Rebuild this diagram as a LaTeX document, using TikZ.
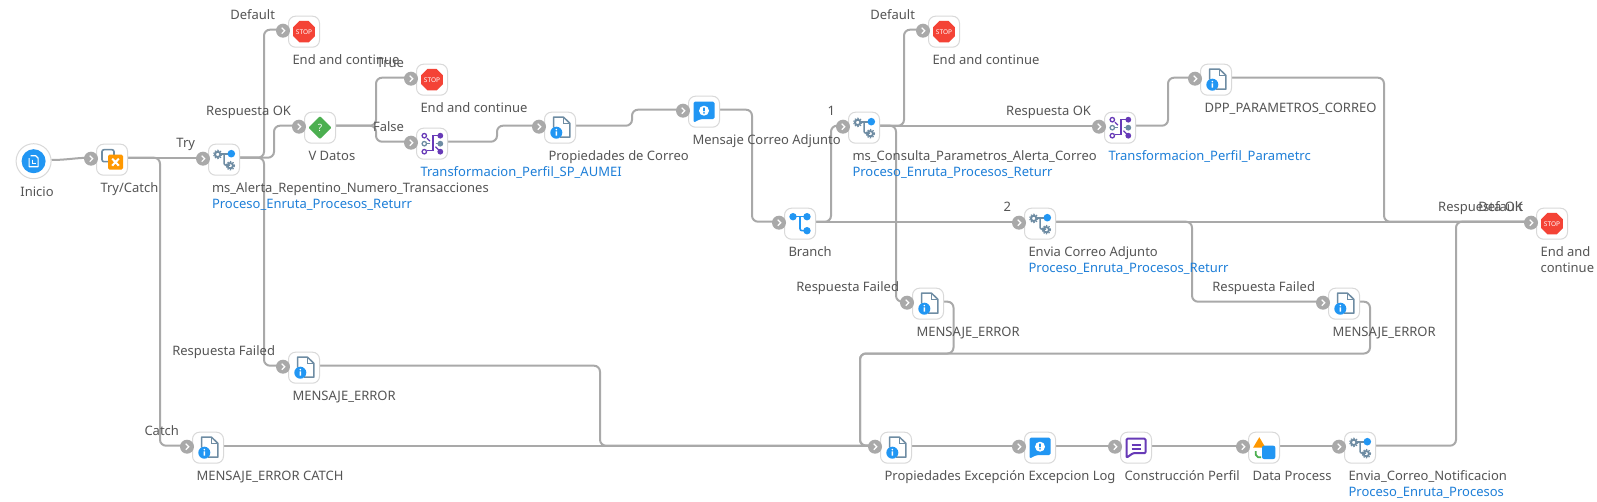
\documentclass[tikz,border=0pt]{standalone}
\usepackage{fontspec}
\setmainfont{Noto Sans}
\usetikzlibrary{calc}
\definecolor{edgec}{HTML}{A9A9A9}
\definecolor{txt}{HTML}{555555}
\definecolor{linkc}{HTML}{1E7FD8}
\definecolor{boxc}{HTML}{D9D9D9}
\definecolor{steel}{HTML}{6E8CA3}
\definecolor{blu}{HTML}{2196F3}
\definecolor{pur}{HTML}{673AB7}
\definecolor{redc}{HTML}{F44336}
\definecolor{grn}{HTML}{4CAF50}
\definecolor{ora}{HTML}{FF9800}
\pgfdeclarelayer{edges}
\pgfsetlayers{edges,main}
\tikzset{
 box/.style={draw=boxc,line width=1pt,fill=white,rounded corners=7pt,minimum size=31pt,inner sep=0,outer sep=0},
 portc/.style={circle,fill=edgec,minimum size=14pt,inner sep=0,outer sep=0},
 edge/.style={draw=edgec,line width=2pt,rounded corners=6pt},
 lab/.style={inner sep=0,outer sep=0,text=txt,anchor=base west,yshift=-0.6pt,font=\fontsize{13}{16}\selectfont},
 link/.style={lab,text=linkc},
 elab/.style={lab,anchor=base east,yshift=0.6pt},
}
% icons are drawn around (0,0), the centre of the box
\newcommand{\cogg}[2]{\draw[steel,line width=1.9pt] (#1,#2) circle (2.7pt);
  \draw[steel,line width=1.1pt,dash pattern=on 1.4pt off 1.3pt] (#1,#2) circle (4.2pt);}
\newcommand{\icostop}{\fill[redc] (-4.5,-10.8)--(4.5,-10.8)--(10.8,-4.5)--(10.8,4.5)--(4.5,10.8)--(-4.5,10.8)--(-10.8,4.5)--(-10.8,-4.5)--cycle;
  \node[inner sep=0,text=white,font=\fontsize{6.5}{6.5}\bfseries\selectfont] (t\thestopn) at (0,0) {STOP};\stepcounter{stopn}}
\newcounter{stopn}
\newcommand{\icoms}{\draw[steel,line width=1.5pt,rounded corners=2pt] (0,-5.5)--(0,5.5)--(6,5.5);
  \draw[steel,line width=1.5pt] (-3,-5.5)--(7,-5.5);
  \cogg{-6.3}{-5.3}\cogg{6.3}{6}\fill[blu] (7.3,-6) circle (3.8pt);}
\newcommand{\icobranch}{\draw[blu,line width=1.6pt,rounded corners=2pt] (0,-7)--(0,7)--(7,7);
  \draw[blu,line width=1.6pt] (-7,-7)--(7,-7);
  \fill[blu] (-7,-7) circle (3.7pt) (7,-7) circle (3.7pt) (7,7) circle (3.7pt);}
\newcommand{\icodoc}{\draw[steel,line width=1.5pt,line join=round] (-6.5,0)--(-6.5,-10.5)--(3.5,-10.5)--(9.8,-4.5)--(9.8,9.5)--(0,9.5);
  \draw[steel,line width=1.2pt] (3.5,-10.5)--(3.5,-4.5)--(9.8,-4.5);
  \fill[blu] (-3.7,5) circle (6pt);
  \fill[white] (-3.7,1.9) circle (.9pt) (-4.5,3.6) rectangle (-2.9,8);}
\newcommand{\icomsg}{\fill[blu,rounded corners=1.5pt] (-10.5,-10)--(10.5,-10)--(10.5,7.5)--(-4,7.5)--(-10.5,11)--cycle;
  \fill[white] (0,-1) circle (5pt);
  \fill[blu] (-.9,-4) rectangle (.9,-.5) (0,1.2) circle (1pt);}
\newcommand{\icospeech}{\draw[pur,line width=2pt,line join=round,rounded corners=1pt] (-9.5,-9)--(9.5,-9)--(9.5,5.5)--(-3,5.5)--(-9.5,10)--cycle;
  \draw[pur,line width=2pt] (-4.3,-2.7)--(4.7,-2.7) (-4.3,1.3)--(4.7,1.3);}
\newcommand{\icotrans}{\draw[pur,line width=1.4pt] (8,-8)--(1,-8)--(1,7)--(-5.5,7);
  \draw[pur,line width=1.2pt] (-5,-5.5)--(-2,-2.5) (3.5,3)--(7,6.5);
  \draw[steel,line width=1.2pt] (-5,-.5)--(-2,-.5) (3.5,-.5)--(7,-.5);
  \draw[pur,line width=1.3pt] (-7.7,-8) circle (2.2pt) (-7.7,8) circle (2.2pt);
  \draw[steel,line width=1.3pt] (-7.7,0) circle (2.2pt);
  \fill[pur] (8.3,-8) circle (2.9pt) (8.3,8) circle (2.9pt);
  \fill[steel] (8.3,0) circle (2.9pt);}
\newcommand{\icodiamond}{\fill[grn,rounded corners=1pt] (0,-11.5)--(11.5,0)--(0,11.5)--(-11.5,0)--cycle;
  \node[inner sep=0,text=white,font=\fontsize{10}{10}\bfseries\selectfont] (q) at (0,0) {?};}
\newcommand{\icotry}{\draw[steel,line width=1.6pt,rounded corners=2pt] (-10,-10)--(2,-10)--(2,2)--(-10,2)--cycle;
  \fill[ora,rounded corners=1.5pt] (-4,-5) rectangle (11,10);
  \draw[white,line width=2pt] (.2,-1)--(6.8,6) (6.8,-1)--(.2,6);}
\newcommand{\icodata}{\fill[ora] (-4.7,-10.5)--(1.5,0)--(-10.9,0)--cycle;
  \draw[grn,line width=1.8pt] (-3,9.5)--(-6,9.5)--(-8.3,7)--(-8.3,3.5);
  \fill[blu,rounded corners=2pt] (-2,-2) rectangle (11.3,11.3);}
% \flow{name}{x}{y}{icon}: box, its icon, its port and its two line ends
\newcommand{\flow}[4]{%
  \node[box] (#1) at (#2,#3) {};
  \begin{scope}[shift={(#1.center)}]#4\end{scope}
  \node[portc] (#1-p) at ($(#1.center)+(-21,-1)$) {};
  \draw[white,line width=1.2pt] ($(#1-p.center)+(-1.3,-3)$)--($(#1-p.center)+(1.7,0)$)--($(#1-p.center)+(-1.3,3)$);
  \coordinate (#1-i) at ($(#1.center)+(-21,-2)$);
  \coordinate (#1-o) at ($(#1.center)+(16,-2)$);
}
% \hvh{from}{to}{x of the vertical}
\newcommand{\hvh}[4][]{\coordinate (m) at (#4,0);\draw[edge,#1] (#2) -- (#2 -| m) -- (#3 -| m) -- (#3);}
\begin{document}
\begin{tikzpicture}[x=1pt,y=-1pt]
\useasboundingbox (0,0) rectangle (1597,502);
% start node
\node[circle,draw=boxc,line width=1pt,fill=white,minimum size=35pt,inner sep=0] (inicio) at (33.6,161.2) {};
\fill[blu] (inicio.center) circle (12pt);
\draw[white,line width=1.2pt,line join=round] ($(inicio.center)+(-3,-5.5)$)--($(inicio.center)+(2,-5.5)$)--($(inicio.center)+(4.5,-3)$)--($(inicio.center)+(4.5,5.5)$)--($(inicio.center)+(-4.5,5.5)$)--($(inicio.center)+(-4.5,-3)$);
\draw[white,line width=1.2pt] ($(inicio.center)+(-1.5,-1.5)$)--($(inicio.center)+(-1.5,2.5)$)--($(inicio.center)+(2.5,2.5)$);
\coordinate (inicio-o) at (51.5,160);
% boxes
\flow{try}{112}{159.7}{\icotry}
\flow{alerta}{224}{159.7}{\icoms}
\flow{stopa}{304}{31.7}{\icostop}
\flow{vdatos}{320}{127.7}{\icodiamond}
\flow{stopb}{432}{79.7}{\icostop}
\flow{transa}{432}{143.7}{\icotrans}
\flow{prop}{560}{127.7}{\icodoc}
\flow{correo}{704}{111.7}{\icomsg}
\flow{branch}{800}{223.7}{\icobranch}
\flow{consulta}{864}{127.7}{\icoms}
\flow{stopc}{944}{31.7}{\icostop}
\flow{transb}{1120}{127.7}{\icotrans}
\flow{dpp}{1216}{79.7}{\icodoc}
\flow{envia}{1040}{223.7}{\icoms}
\flow{stopd}{1552}{223.7}{\icostop}
\flow{errb}{928}{303.7}{\icodoc}
\flow{errc}{1344}{303.7}{\icodoc}
\flow{erra}{304}{367.7}{\icodoc}
\flow{errd}{208}{447.7}{\icodoc}
\flow{propex}{896}{447.7}{\icodoc}
\flow{exlog}{1040}{447.7}{\icomsg}
\flow{perfil}{1136}{447.7}{\icospeech}
\flow{datap}{1264}{447.7}{\icodata}
\flow{notif}{1360}{447.7}{\icoms}
% texts under the boxes
\node[lab] (l1) at (20.4,196) {Inicio};
\node[lab] (l2) at (100.5,192) {Try/Catch};
\node[lab] (l3) at (212,192) {ms\_Alerta\_Repentino\_Numero\_Transacciones};
\node[link] (l4) at (212,208) {Proceso\_Enruta\_Procesos\_Returr};
\node[lab] (l5) at (292.5,64) {End and continue};
\node[lab] (l6) at (308.5,160) {V Datos};
\node[lab] (l7) at (420.5,112) {End and continue};
\node[link] (l8) at (420.5,176) {Transformacion\_Perfil\_SP\_AUMEI};
\node[lab] (l9) at (548.5,160) {Propiedades de Correo};
\node[lab] (l10) at (692.5,144) {Mensaje Correo Adjunto};
\node[lab] (l11) at (788.5,256) {Branch};
\node[lab] (l12) at (852.5,160) {ms\_Consulta\_Parametros\_Alerta\_Correo};
\node[link] (l13) at (852.5,176) {Proceso\_Enruta\_Procesos\_Returr};
\node[lab] (l14) at (932.5,64) {End and continue};
\node[link] (l15) at (1108.5,160) {Transformacion\_Perfil\_Parametrc};
\node[lab] (l16) at (1204.5,112) {DPP\_PARAMETROS\_CORREO};
\node[lab] (l17) at (1028.5,256) {Envia Correo Adjunto};
\node[link] (l18) at (1028.5,272) {Proceso\_Enruta\_Procesos\_Returr};
\node[lab,anchor=north west,align=left] (l19) at (1540.5,246.5) {End and\\continue};
\node[lab] (l20) at (916.5,336) {MENSAJE\_ERROR};
\node[lab] (l21) at (1332.5,336) {MENSAJE\_ERROR};
\node[lab] (l22) at (292.5,400) {MENSAJE\_ERROR};
\node[lab] (l23) at (196.5,480) {MENSAJE\_ERROR CATCH};
\node[lab] (l24) at (884.5,480) {Propiedades Excepción};
\node[lab] (l25) at (1028.5,480) {Excepcion Log};
\node[lab] (l26) at (1124.5,480) {Construcción Perfil};
\node[lab] (l27) at (1252.5,480) {Data Process};
\node[lab] (l28) at (1348.5,480) {Envia\_Correo\_Notificacion};
\node[link] (l29) at (1348.5,496) {Proceso\_Enruta\_Procesos};
% texts on the connectors
\node[elab] (e1) at ($(alerta-p)+(-8,-11.4)$) {Try};
\node[elab] (e2) at ($(stopa-p)+(-8,-11.4)$) {Default};
\node[elab] (e3) at ($(vdatos-p)+(-8,-11.4)$) {Respuesta OK};
\node[elab] (e4) at ($(erra-p)+(-8,-11.4)$) {Respuesta Failed};
\node[elab] (e5) at ($(errd-p)+(-8,-11.4)$) {Catch};
\node[elab] (e6) at ($(stopb-p)+(-7,-11.4)$) {True};
\node[elab] (e7) at ($(transa-p)+(-7,-11.4)$) {False};
\node[elab] (e8) at ($(consulta-p)+(-8,-11.4)$) {1};
\node[elab] (e9) at ($(envia-p)+(-8,-11.4)$) {2};
\node[elab] (e10) at ($(stopc-p)+(-8,-11.4)$) {Default};
\node[elab] (e11) at ($(transb-p)+(-8,-11.4)$) {Respuesta OK};
\node[elab] (e12) at ($(errb-p)+(-8,-11.4)$) {Respuesta Failed};
\node[elab] (e13) at ($(errc-p)+(-8,-11.4)$) {Respuesta Failed};
\node[elab] (e14) at ($(stopd-p)+(-8,-11.4)$) {Respuesta OK};
\node[elab] (e15) at ($(stopd-p)+(-8,-11.4)$) {Default};
% connectors
\begin{pgfonlayer}{edges}
\fill[white] (0,0) rectangle (1597,502);
\draw[edge] (inicio-o) to[out=0,in=180] (try-i);
\draw[edge] (try-o) -- (alerta-i);
\hvh{try-o}{errd-i}{160}
\hvh{alerta-o}{stopa-i}{264}
\hvh{alerta-o}{erra-i}{264}
\hvh{alerta-o}{vdatos-i}{274}
\hvh{vdatos-o}{stopb-i}{376}
\hvh{vdatos-o}{transa-i}{376}
\hvh{transa-o}{prop-i}{497}
\hvh{prop-o}{correo-i}{632}
\hvh{correo-o}{branch-i}{752}
\hvh{branch-o}{consulta-i}{831}
\draw[edge] (branch-o) -- (envia-i);
\hvh{consulta-o}{stopc-i}{904}
\draw[edge] (consulta-o) -- (transb-i);
\hvh{consulta-o}{errb-i}{896}
\hvh{transb-o}{dpp-i}{1168}
\hvh{dpp-o}{stopd-i}{1384}
\draw[edge] (envia-o) -- (stopd-i);
\hvh{envia-o}{errc-i}{1192}
\hvh{notif-o}{stopd-i}{1456}
\coordinate (bl) at (860,353.5);
\coordinate (ba) at (953.5,353.5);
\coordinate (bb) at (1370,353.5);
\draw[edge] (errb-o) -- (errb-o -| ba) -- (ba) -- (bl) -- (bl |- propex-i) -- (propex-i);
\draw[edge] (errc-o) -- (errc-o -| bb) -- (bb) -- (bl) -- (bl |- propex-i) -- (propex-i);
\hvh{erra-o}{propex-i}{600}
\draw[edge] (errd-o) -- (propex-i);
\draw[edge] (propex-o) -- (exlog-i);
\draw[edge] (exlog-o) -- (perfil-i);
\draw[edge] (perfil-o) -- (datap-i);
\draw[edge] (datap-o) -- (notif-i);
\end{pgfonlayer}
\end{tikzpicture}
\end{document}
